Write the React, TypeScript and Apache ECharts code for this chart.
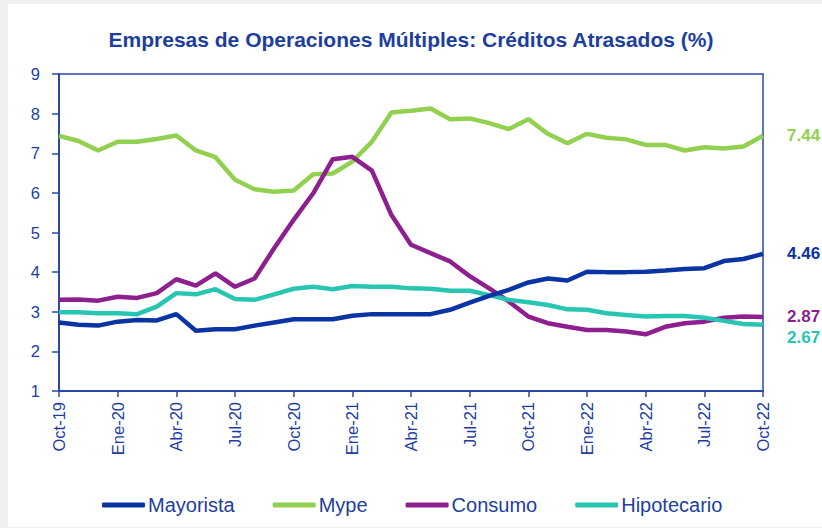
import React, { useEffect, useRef } from "react";
import * as echarts from "echarts";

const months = [
  "Oct-19", "Nov-19", "Dic-19",
  "Ene-20", "Feb-20", "Mar-20", "Abr-20", "May-20", "Jun-20", "Jul-20", "Ago-20", "Sep-20", "Oct-20", "Nov-20", "Dic-20",
  "Ene-21", "Feb-21", "Mar-21", "Abr-21", "May-21", "Jun-21", "Jul-21", "Ago-21", "Sep-21", "Oct-21", "Nov-21", "Dic-21",
  "Ene-22", "Feb-22", "Mar-22", "Abr-22", "May-22", "Jun-22", "Jul-22", "Ago-22", "Sep-22", "Oct-22",
];

const mayorista = [
  2.73, 2.67, 2.65, 2.75, 2.79, 2.78, 2.94, 2.52, 2.56, 2.56, 2.65, 2.73, 2.81, 2.81, 2.81, 2.9, 2.94, 2.94, 2.94,
  2.94, 3.05, 3.23, 3.4, 3.55, 3.74, 3.84, 3.79, 4.01, 4.0, 4.0, 4.01, 4.04, 4.08, 4.1, 4.28, 4.33, 4.46,
];
const mype = [
  7.44, 7.31, 7.07, 7.29, 7.29, 7.36, 7.45, 7.07, 6.9, 6.33, 6.09, 6.03, 6.06, 6.47, 6.49, 6.79, 7.29, 8.03, 8.07,
  8.13, 7.86, 7.88, 7.76, 7.61, 7.86, 7.49, 7.25, 7.49, 7.39, 7.35, 7.21, 7.21, 7.07, 7.15, 7.12, 7.17, 7.44,
];
const consumo = [
  3.3, 3.31, 3.28, 3.38, 3.35, 3.47, 3.82, 3.66, 3.97, 3.63, 3.84, 4.6, 5.32, 5.99, 6.85, 6.91, 6.56, 5.44, 4.69,
  4.48, 4.27, 3.9, 3.59, 3.26, 2.88, 2.71, 2.62, 2.54, 2.54, 2.5, 2.43, 2.62, 2.71, 2.75, 2.85, 2.88, 2.87,
];
const hipotecario = [
  2.99, 2.99, 2.96, 2.96, 2.94, 3.13, 3.47, 3.44, 3.57, 3.32, 3.3, 3.44, 3.58, 3.63, 3.57, 3.65, 3.63, 3.63, 3.59,
  3.58, 3.53, 3.53, 3.42, 3.3, 3.24, 3.17, 3.06, 3.05, 2.96, 2.92, 2.88, 2.89, 2.89, 2.85, 2.77, 2.69, 2.67,
];

const seriesNames = ["Mayorista", "Mype", "Consumo", "Hipotecario"];
const seriesColors = ["#0a33a3", "#92d050", "#8e1f8f", "#28c5b3"];
const seriesData = [mayorista, mype, consumo, hipotecario];
const endLabelOffsets = [[0, 0], [0, 0], [0, 0], [0, 13]];

const title = "Empresas de Operaciones Múltiples: Créditos Atrasados (%)";
const textBlue = "#1d3e9e";
const axisBlue = "#2a48aa";
const FONT = "'Liberation Sans', Arial, sans-serif";

export default function App() {
  const ref = useRef<HTMLDivElement>(null);

  useEffect(() => {
    if (!ref.current) return;
    const chart = echarts.init(ref.current, undefined, { renderer: "svg" });
    chart.setOption({
      animation: false,
      backgroundColor: "#ffffff",
      title: {
        text: title,
        left: "center",
        top: 20,
        textStyle: { color: textBlue, fontFamily: FONT, fontSize: 21, fontWeight: "bold" },
      },
      grid: {
        left: 59,
        right: 59,
        top: 70,
        bottom: 136,
        show: true,
        borderColor: axisBlue,
        borderWidth: 1.5,
        backgroundColor: "transparent",
      },
      legend: {
        data: seriesNames,
        left: 97,
        top: 486,
        icon: "roundRect",
        itemWidth: 43,
        itemHeight: 5,
        itemGap: 38,
        textStyle: { color: textBlue, fontFamily: FONT, fontSize: 20, padding: [0, 0, 0, -2] },
      },
      xAxis: {
        type: "category",
        data: months,
        boundaryGap: false,
        axisLine: { lineStyle: { color: axisBlue, width: 2 } },
        axisTick: { show: true, interval: 2, length: 6, lineStyle: { color: axisBlue, width: 1.5 } },
        axisLabel: {
          interval: 2,
          rotate: 90,
          margin: 11,
          color: textBlue,
          fontFamily: FONT,
          fontSize: 16.5,
        },
        splitLine: { show: false },
      },
      yAxis: {
        type: "value",
        min: 1,
        max: 9,
        interval: 1,
        axisLine: { show: true, lineStyle: { color: axisBlue, width: 2 } },
        axisTick: { show: true, length: 7, lineStyle: { color: axisBlue, width: 1.5 } },
        axisLabel: { color: textBlue, fontFamily: FONT, fontSize: 16.5, margin: 19 },
        splitLine: { show: false },
      },
      series: seriesNames.map((name, i) => ({
        name,
        type: "line",
        data: seriesData[i],
        symbol: "none",
        color: seriesColors[i],
        lineStyle: { width: 4.5, color: seriesColors[i] },
        z: i === 0 ? 5 : 3,
        endLabel: {
          show: true,
          formatter: (p: any) => Number(p.value).toFixed(2),
          distance: 24,
          offset: endLabelOffsets[i],
          color: seriesColors[i],
          fontFamily: FONT,
          fontSize: 17,
          fontWeight: "bold",
        },
      })),
    });
    return () => chart.dispose();
  }, []);

  return (
    <div style={{ position: "fixed", left: 0, top: 0, width: 822, height: 528, background: "#f0f0f0", overflow: "hidden" }}>
      <div ref={ref} style={{ position: "absolute", left: 0, top: 4, width: 822, height: 523, background: "#ffffff" }} />
      <div style={{ position: "absolute", left: 0, top: 0, width: 8, height: 528, background: "#f0f0f0" }} />
    </div>
  );
}
